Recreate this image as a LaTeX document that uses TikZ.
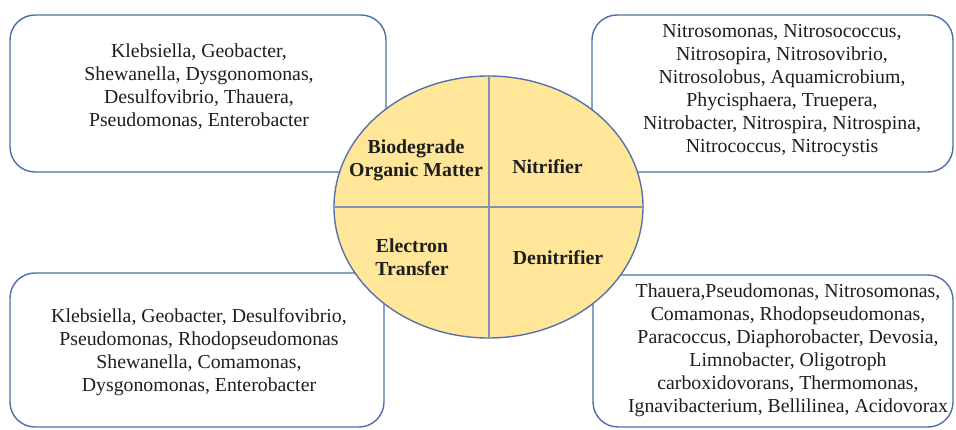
\documentclass[tikz,border=0pt]{standalone}
\usepackage{fontspec}
\setmainfont{Liberation Serif}
\usetikzlibrary{shapes.geometric}
\definecolor{boxblue}{HTML}{4F6FA8}
\definecolor{hubfill}{HTML}{FFE699}
\definecolor{hubline}{HTML}{5573A8}
\definecolor{splitgray}{HTML}{8393AD}
\definecolor{inkgray}{HTML}{1E1E1E}
\begin{document}
\begin{tikzpicture}[x=1pt, y=-1pt,
		listbox/.style = {shape=rectangle, rounded corners=25pt, draw=boxblue,
			line width=1.4pt, fill=white, inner sep=0pt},
		bugs/.style = {align=center, text=inkgray, inner sep=0pt,
			font=\fontsize{19.8}{23}\selectfont},
		quarter/.style = {align=center, text=inkgray, inner sep=0pt,
			font=\fontsize{19.8}{23}\selectfont\bfseries}]
		\useasboundingbox (0,0) rectangle (956,430);
		% boxes round the circle
		\node[listbox, minimum width=376pt, minimum height=157pt] (organic) at (198,93.5) {};
		\node[listbox, minimum width=361pt, minimum height=157pt] (nitri) at (772.5,93.5) {};
		\node[listbox, minimum width=374pt, minimum height=154pt] (electron) at (197,350) {};
		\node[listbox, minimum width=360pt, minimum height=152pt] (denitri) at (773,351) {};
		% genus lists
		\node[bugs] (organiclist) at (199,87) {Klebsiella, Geobacter,\\Shewanella, Dysgonomonas,\\Desulfovibrio, Thauera,\\Pseudomonas, Enterobacter};
		\node[bugs] (nitrilist) at (782,91) {Nitrosomonas, Nitrosococcus,\\Nitrosopira, Nitrosovibrio,\\Nitrosolobus, Aquamicrobium,\\Phycisphaera, Truepera,\\Nitrobacter, Nitrospira, Nitrospina,\\Nitrococcus, Nitrocystis};
		\node[bugs] (electronlist) at (199,352) {Klebsiella, Geobacter, Desulfovibrio,\\Pseudomonas, Rhodopseudomonas\\Shewanella, Comamonas,\\Dysgonomonas, Enterobacter};
		\node[bugs] (denitrilist) at (788,350) {Thauera,Pseudomonas, Nitrosomonas,\\Comamonas, Rhodopseudomonas,\\Paracoccus, Diaphorobacter, Devosia,\\Limnobacter, Oligotroph\\carboxidovorans, Thermomonas,\\Ignavibacterium, Bellilinea, Acidovorax};
		% the circle in four parts
		\node[ellipse, draw=hubline, line width=1.4pt, fill=hubfill, inner sep=0pt,
			minimum width=309pt, minimum height=262pt] (hub) at (488.5,207) {};
		\draw[splitgray, line width=2pt] (hub.north) -- (hub.south);
		\draw[splitgray, line width=2pt] (hub.west) -- (hub.east);
		\node[quarter] (organiclabel) at (416,160) {Biodegrade\\Organic Matter};
		\node[quarter] (nitrilabel) at (547.5,167) {Nitrifier};
		\node[quarter] (electronlabel) at (412,257) {Electron\\Transfer};
		\node[quarter] (denitrilabel) at (558,258) {Denitrifier};
	\end{tikzpicture}
\end{document}
